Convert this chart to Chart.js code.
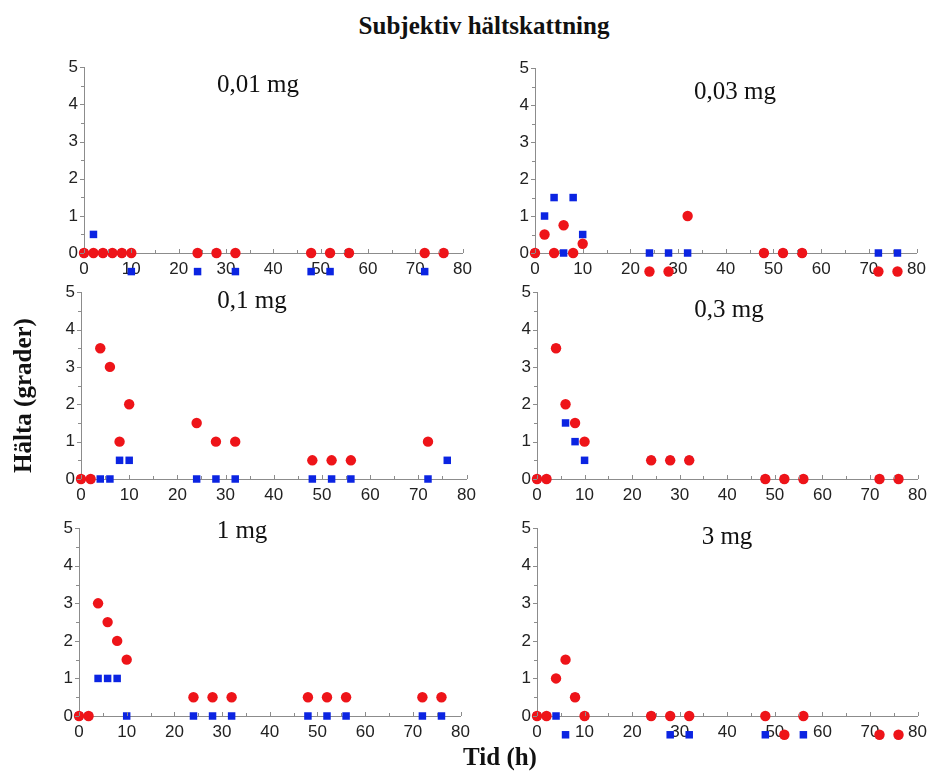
<!DOCTYPE html>
<html>
<head>
<meta charset="utf-8">
<script src="https://cdn.jsdelivr.net/npm/chart.js@4"></script>
<style>
  html, body { margin:0; padding:0; background:#fff; width:931px; height:773px; overflow:hidden; }
  .lbl { position:absolute; font-family:"Liberation Serif","Times New Roman",serif; font-size:25px; line-height:25px; color:#111; white-space:nowrap; transform:translateX(-50%); }
  .bold { font-weight:bold; }
  canvas { position:absolute; }
</style>
</head>
<body>
<script>
// ---- data ----
const times = [0, 2, 4, 6, 8, 10, 24, 28, 32, 48, 52, 56, 72, 76];
const doseLabels = ['0,01 mg', '0,03 mg', '0,1 mg', '0,3 mg', '1 mg', '3 mg'];
const xTicks = [0, 10, 20, 30, 40, 50, 60, 70, 80];
const yTicks = [0, 1, 2, 3, 4, 5];

const red001  = [0, 0, 0, 0, 0, 0, 0, 0, 0, 0, 0, 0, 0, 0];
const blue001 = [0, 0.5, 0, 0, 0, -0.5, -0.5, 0, -0.5, -0.5, -0.5, 0, -0.5, 0];
const red003  = [0, 0.5, 0, 0.75, 0, 0.25, -0.5, -0.5, 1, 0, 0, 0, -0.5, -0.5];
const blue003 = [0, 1, 1.5, 0, 1.5, 0.5, 0, 0, 0, 0, 0, 0, 0, 0];
const red01   = [0, 0, 3.5, 3, 1, 2, 1.5, 1, 1, 0.5, 0.5, 0.5, 1, null];
const blue01  = [0, 0, 0, 0, 0.5, 0.5, 0, 0, 0, 0, 0, 0, 0, 0.5];
const red03   = [0, 0, 3.5, 2, 1.5, 1, 0.5, 0.5, 0.5, 0, 0, 0, 0, 0];
const blue03  = [0, 0, 3.5, 1.5, 1, 0.5, 0.5, 0.5, 0.5, 0, 0, 0, 0, 0];
const red1    = [0, 0, 3, 2.5, 2, 1.5, 0.5, 0.5, 0.5, 0.5, 0.5, 0.5, 0.5, 0.5];
const blue1   = [0, 0, 1, 1, 1, 0, 0, 0, 0, 0, 0, 0, 0, 0];
const red3    = [0, 0, 1, 1.5, 0.5, 0, 0, 0, 0, 0, -0.5, 0, -0.5, -0.5];
const blue3   = [0, 0, 0, -0.5, 0.5, 0, 0, -0.5, -0.5, -0.5, -0.5, -0.5, -0.5, -0.5];

const redSeries  = [red001, red003, red01, red03, red1, red3];
const blueSeries = [blue001, blue003, blue01, blue03, blue1, blue3];

// ---- layout (plot areas in page pixels) ----
const panels = [
  {L:84,  T:63,  R:468, B:253, lx:258, lb:92},
  {L:535, T:64,  R:922, B:253, lx:735, lb:99},
  {L:81,  T:288, R:472, B:479, lx:252, lb:308},
  {L:537, T:288, R:923, B:479, lx:729, lb:317},
  {L:79,  T:524, R:466, B:716, lx:242, lb:538},
  {L:537, T:524, R:923, B:716, lx:727, lb:544}
];

const RED = '#ee1419', BLUE = '#0b24e2', AXIS = '#8c8c8c';
const PADL = 40, PADT = 12, PADR = 10, PADB = 30;

function addText(txt, x, top, cls) {
  const d = document.createElement('div');
  d.className = 'lbl ' + (cls || '');
  d.textContent = txt;
  d.style.left = x + 'px';
  d.style.top = top + 'px';
  document.body.appendChild(d);
  return d;
}

const tickMarks = {
  id: 'tickMarks',
  afterDraw(chart) {
    const {ctx, scales:{x, y}, chartArea:a} = chart;
    ctx.save();
    ctx.strokeStyle = AXIS;
    ctx.lineWidth = 1;
    ctx.beginPath();
    for (let v = 0; v <= 80; v += 5) {
      const px = Math.round(x.getPixelForValue(v)) + 0.5;
      const len = v % 10 === 0 ? 4 : 3;
      ctx.moveTo(px, a.bottom); ctx.lineTo(px, a.bottom - len);
    }
    for (let v = 0; v <= 5; v += 0.5) {
      const py = Math.round(y.getPixelForValue(v)) + 0.5;
      const len = v % 1 === 0 ? 4 : 3;
      ctx.moveTo(a.left, py); ctx.lineTo(a.left - len, py);
    }
    ctx.stroke();
    ctx.restore();
  }
};

// let markers below the zero line (values -0.5) be drawn outside the plot box
const extendArea = {
  id: 'extendArea',
  beforeDatasetsDraw(chart) { chart.chartArea.bottom += PADB; },
  afterDatasetsDraw(chart) { chart.chartArea.bottom -= PADB; }
};

panels.forEach((p, i) => {
  const c = document.createElement('canvas');
  const w = p.R - p.L + PADL + PADR, h = p.B - p.T + PADT + PADB;
  c.width = w; c.height = h;
  c.style.width = w + 'px'; c.style.height = h + 'px';
  c.style.left = (p.L - PADL) + 'px';
  c.style.top = (p.T - PADT) + 'px';
  document.body.appendChild(c);

  const mk = (arr) => times.map((t, k) => ({x: t, y: arr[k]})).filter(o => o.y !== null);

  new Chart(c, {
    type: 'scatter',
    data: {
      datasets: [
        {label: 'röd', data: mk(redSeries[i]), backgroundColor: RED, borderWidth: 0,
         pointStyle: 'circle', pointRadius: 5.2, clip: false},
        {label: 'blå', data: mk(blueSeries[i]), backgroundColor: BLUE, borderWidth: 0,
         pointStyle: 'rect', pointRadius: 5.3, clip: false}
      ]
    },
    options: {
      responsive: false,
      animation: false,
      events: [],
      layout: {padding: {left: 0, top: PADT, right: PADR, bottom: 0}},
      plugins: {legend: {display: false}, tooltip: {enabled: false}, title: {display: false}},
      scales: {
        x: {
          type: 'linear', min: 0, max: 80,
          afterFit: s => { s.height = PADB; },
          afterBuildTicks: s => { s.ticks = xTicks.map(v => ({value: v})); },
          ticks: {autoSkip: false, maxRotation: 0, padding: 6, color: '#222',
                  font: {family: '"Liberation Sans", Arial, sans-serif', size: 17}},
          grid: {drawOnChartArea: false, drawTicks: false},
          border: {display: true, color: AXIS, width: 1}
        },
        y: {
          type: 'linear', min: 0, max: 5,
          afterFit: s => { s.width = PADL; },
          afterBuildTicks: s => { s.ticks = yTicks.map(v => ({value: v})); },
          ticks: {padding: 6, color: '#222',
                  font: {family: '"Liberation Sans", Arial, sans-serif', size: 17}},
          grid: {drawOnChartArea: false, drawTicks: false},
          border: {display: true, color: AXIS, width: 1}
        }
      }
    },
    plugins: [tickMarks, extendArea]
  });

  addText(doseLabels[i], p.lx, p.lb - 21);
});

addText('Subjektiv hältskattning', 484, 13, 'bold');
addText('Tid (h)', 500, 744, 'bold');
const yt = addText('Hälta (grader)', 22, 383, 'bold');
yt.style.transform = 'translateX(-50%) rotate(-90deg)';
yt.style.transformOrigin = '50% 50%';
</script>
</body>
</html>
